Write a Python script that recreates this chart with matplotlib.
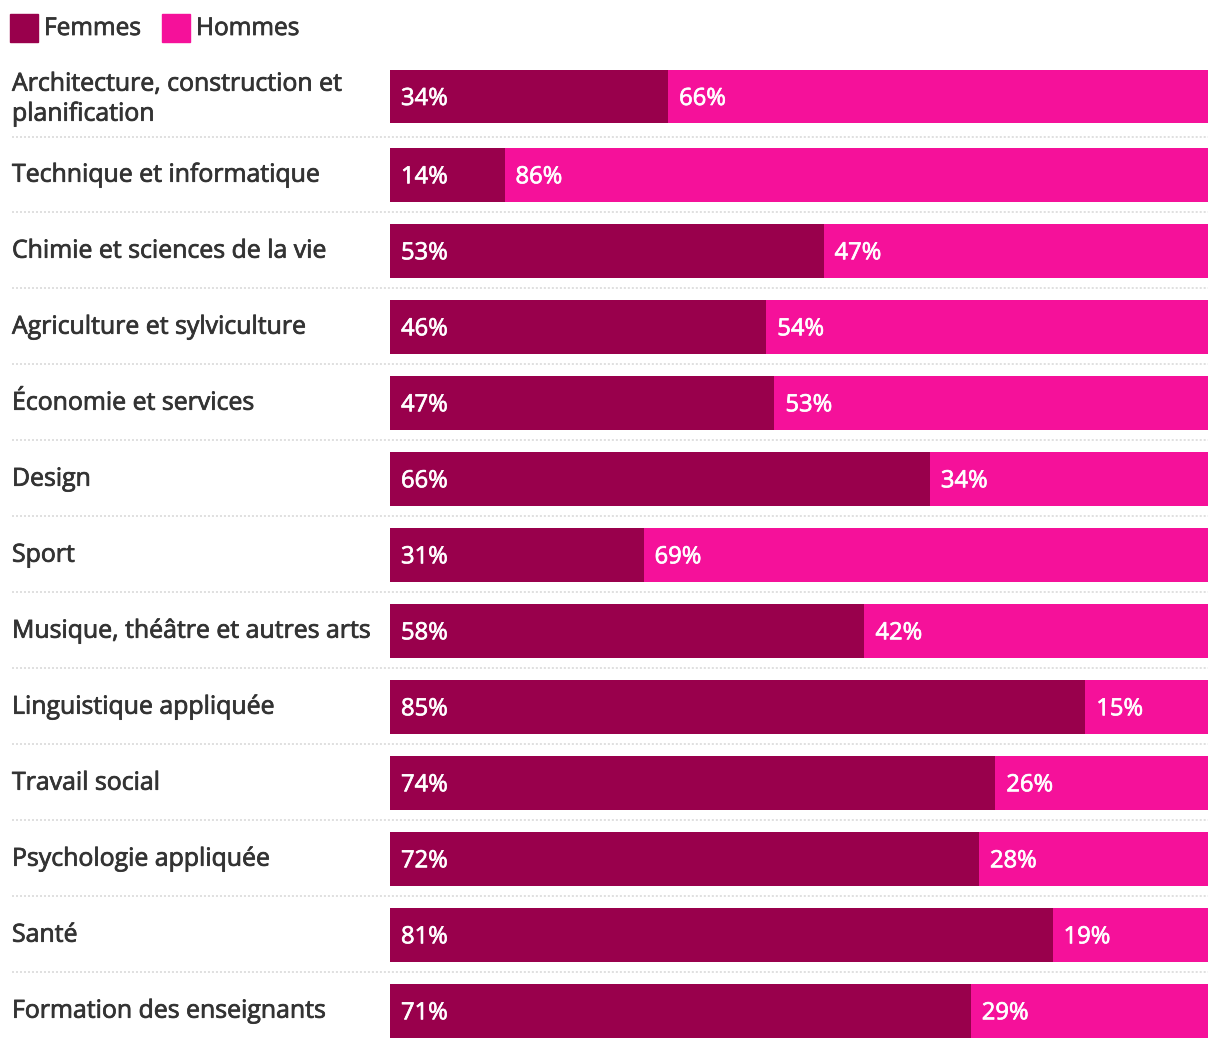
import matplotlib
matplotlib.use("Agg")
import matplotlib.pyplot as plt
from matplotlib.patches import Rectangle
from matplotlib.transforms import blended_transform_factory
import matplotlib.patheffects as pe

categories = [
    "Architecture, construction et\nplanification",
    "Technique et informatique",
    "Chimie et sciences de la vie",
    "Agriculture et sylviculture",
    "Économie et services",
    "Design",
    "Sport",
    "Musique, théâtre et autres arts",
    "Linguistique appliquée",
    "Travail social",
    "Psychologie appliquée",
    "Santé",
    "Formation des enseignants",
]
femmes = [34, 14, 53, 46, 47, 66, 31, 58, 85, 74, 72, 81, 71]
hommes = [66, 86, 47, 54, 53, 34, 69, 42, 15, 26, 28, 19, 29]
series_names = ["Femmes", "Hommes"]
series_colors = ["#99004C", "#F5119A"]

plt.rcParams['font.family'] = ['Open Sans', 'DejaVu Sans']
W, H = 1220, 1048
fig = plt.figure(figsize=(W / 100, H / 100), dpi=100)
fig.patch.set_facecolor("white")

# axes: x in percent over the bar area, y in pixels from the top of the figure
ax = fig.add_axes([390 / W, 0, 818 / W, 1])
ax.set_xlim(0, 100)
ax.set_ylim(H, 0)
ax.axis("off")

# layout: row pitch 76 px, a little extra after two-line labels
n = len(categories)
nlines = [len(c.split("\n")) for c in categories]
centers = []
y = 70 + 26.7
for i in range(n):
    if i > 0:
        y += 76 + (2.3 if nlines[i - 1] > 1 else 0)
    centers.append(y)
bh = 53.5
ax.barh(centers, femmes, height=bh, color=series_colors[0], linewidth=0)
ax.barh(centers, hommes, left=femmes, height=bh, color=series_colors[1], linewidth=0)

dark = "#333333"
fs_lab = 17.9
fs_val = 17.1
pe_dark = [pe.withStroke(linewidth=0.55, foreground=dark)]
pe_white = [pe.withStroke(linewidth=0.5, foreground="white")]
font = dict(fontweight="normal", fontstretch="normal")

for i in range(n):
    c = centers[i]
    ax.text(11 / 818 * 100, c + 8.3, f"{femmes[i]}%", va="baseline", ha="left",
            color="white", fontsize=fs_val, path_effects=pe_white, **font)
    ax.text(femmes[i] + 11 / 818 * 100, c + 8.3, f"{hommes[i]}%", va="baseline", ha="left",
            color="white", fontsize=fs_val, path_effects=pe_white, **font)

tr = blended_transform_factory(fig.transFigure, ax.transData)
for i in range(n):
    lines = categories[i].split("\n")
    extra = 2.3 if len(lines) > 1 else 0
    for j, line in enumerate(lines):
        yb = centers[i] + 6.7 + extra - 15 * (len(lines) - 1) + 30 * j
        ax.text(12 / W, yb, line, transform=tr, va="baseline", ha="left",
                color=dark, fontsize=fs_lab, clip_on=False, path_effects=pe_dark, **font)

for i in range(n - 1):
    ys = (centers[i] + centers[i + 1]) / 2 + (1 if nlines[i] > 1 else -1)
    ax.plot([12 / W, 1208 / W], [ys, ys], transform=tr, color="#d6d6d6",
            linewidth=1.08, linestyle=(0, (1.333, 1.333)), clip_on=False)

# legend
lx = [10, 162]
for k in range(2):
    fig.patches.append(Rectangle((lx[k] / W, (H - 42) / H), 28 / W, 28 / H,
                                 transform=fig.transFigure, color=series_colors[k]))
    fig.text((lx[k] + 34) / W, (H - 35) / H, series_names[k], va="baseline", ha="left",
             color=dark, fontsize=17.6, path_effects=pe_dark, **font)

fig.savefig("out.png", dpi=100, facecolor="white")
